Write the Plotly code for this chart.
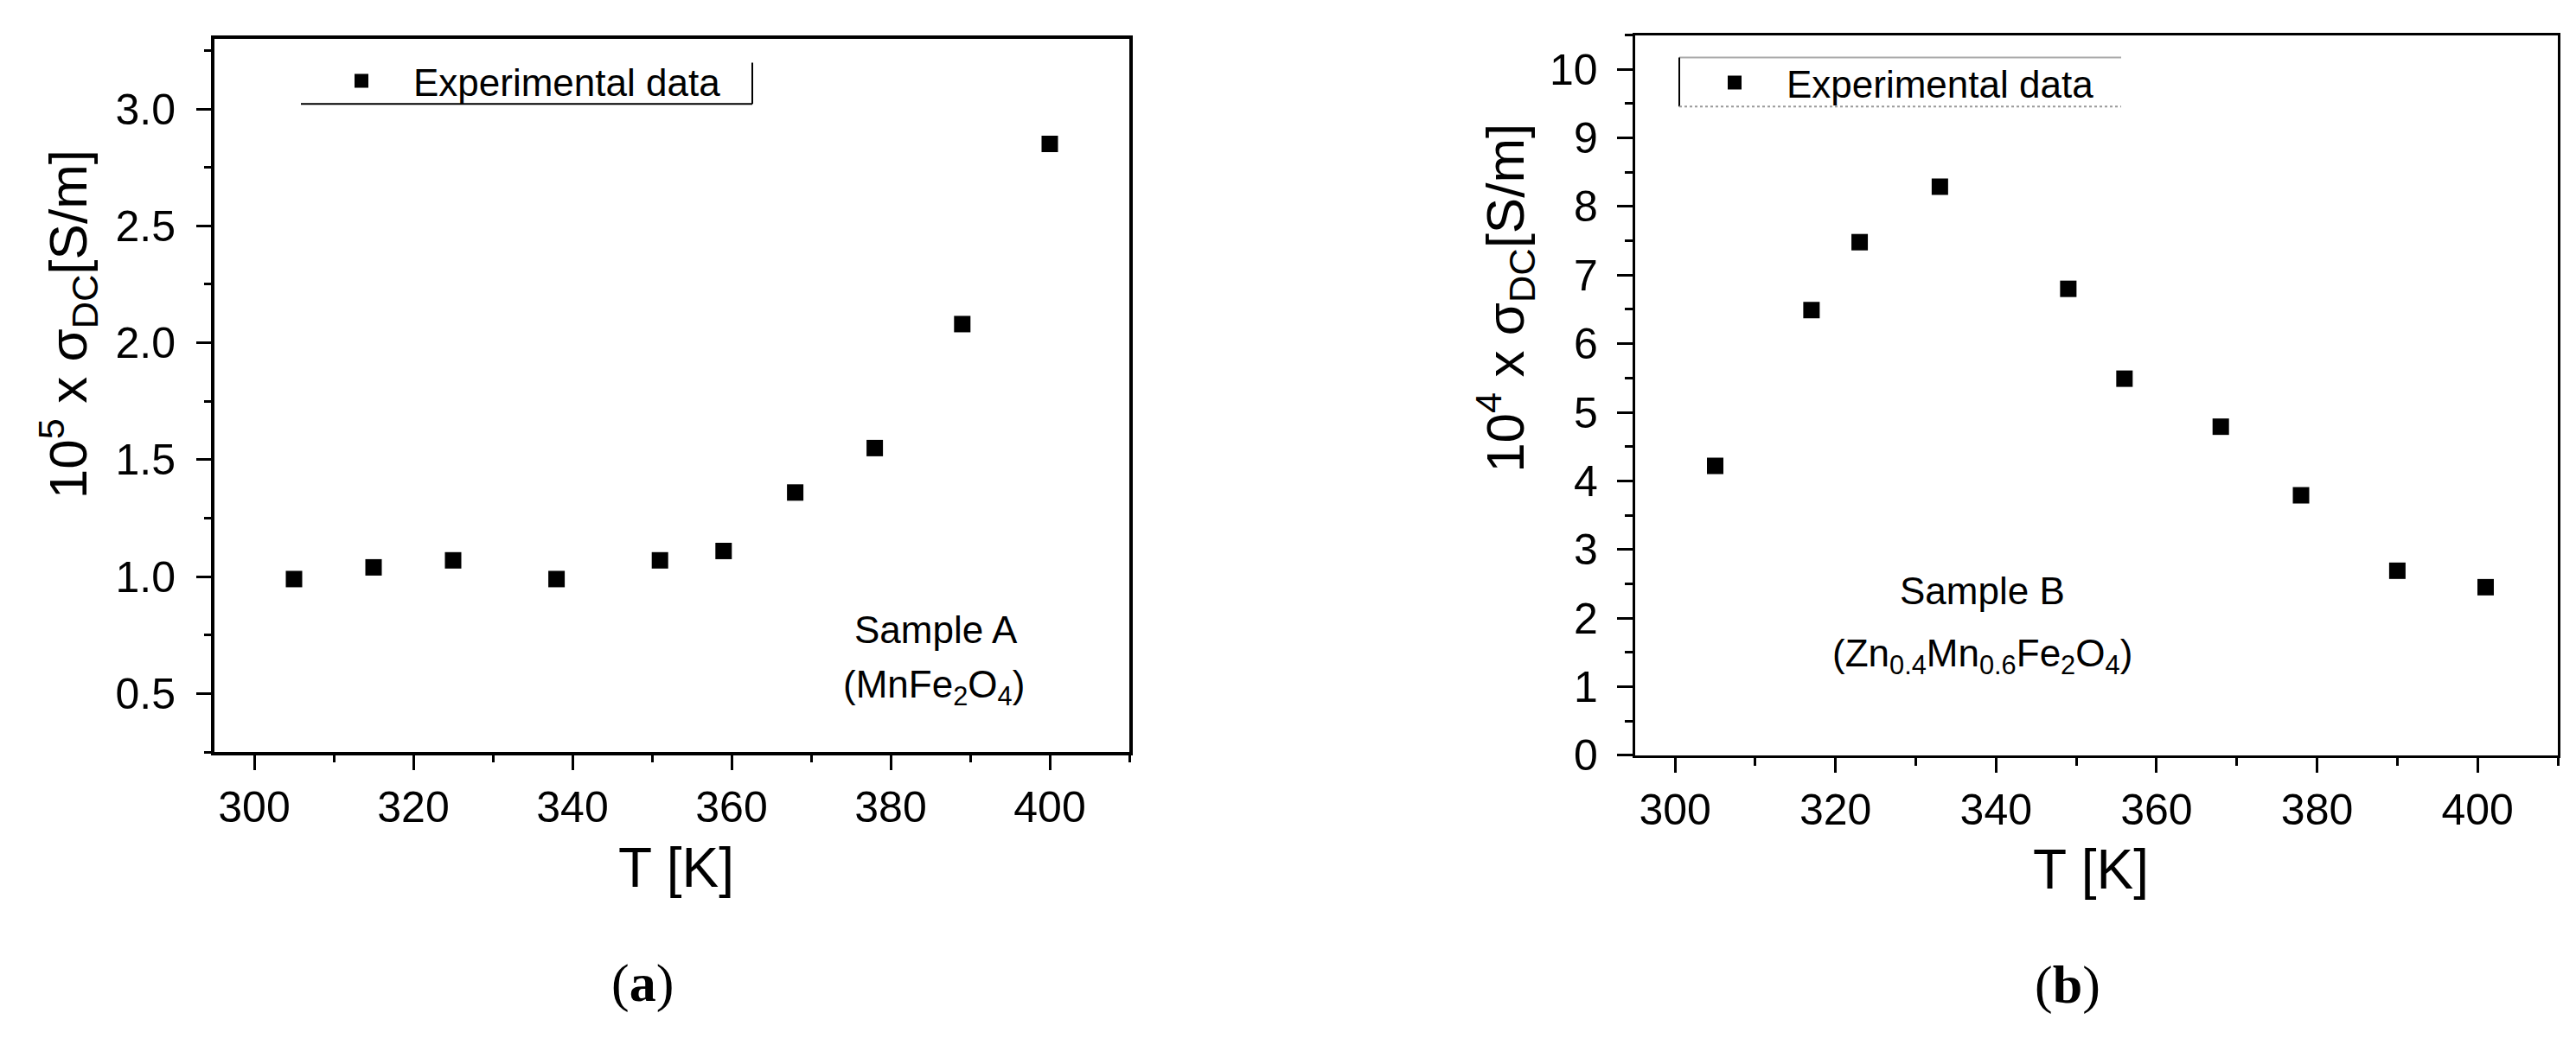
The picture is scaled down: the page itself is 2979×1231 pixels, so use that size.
import plotly.graph_objects as go

W, H = 2979, 1231

# ---- data ----
temp_a = [305, 315, 325, 338, 351, 359, 368, 378, 389, 400]
sigma_a = [0.99, 1.04, 1.07, 0.99, 1.07, 1.11, 1.36, 1.55, 2.08, 2.85]

temp_b = [305, 317, 323, 333, 349, 356, 368, 378, 390, 401]
sigma_b = [4.22, 6.49, 7.48, 8.29, 6.80, 5.49, 4.79, 3.79, 2.69, 2.45]

legend_label = "Experimental data"
x_title = "T [K]"
y_title_a = "10<sup>5</sup> x σ<sub>DC</sub>[S/m]"
y_title_b = "10<sup>4</sup> x σ<sub>DC</sub>[S/m]"
label_a = ["Sample A", "(MnFe<sub>2</sub>O<sub>4</sub>)"]
label_b = ["Sample B", "(Zn<sub>0.4</sub>Mn<sub>0.6</sub>Fe<sub>2</sub>O<sub>4</sub>)"]


def px(x):
    return x / W


def py(y):
    return 1 - y / H


FONT = "Liberation Sans, Arial, sans-serif"
SERIF = "Liberation Serif, Times New Roman, serif"

fig = go.Figure()
fig.add_trace(go.Scatter(x=temp_a, y=sigma_a, mode="markers", name=legend_label,
                         marker=dict(symbol="square", size=19, color="black"),
                         xaxis="x", yaxis="y", legend="legend"))
fig.add_trace(go.Scatter(x=temp_b, y=sigma_b, mode="markers", name=legend_label,
                         marker=dict(symbol="square", size=19, color="black"),
                         xaxis="x2", yaxis="y2", legend="legend2"))

common_x = dict(range=[295, 410], tick0=300, dtick=20, ticks="outside",
                showline=True, linecolor="black", tickcolor="black",
                showgrid=False, zeroline=False, mirror=True,
                tickfont=dict(family=FONT, size=50, color="black"))

fig.update_layout(
    width=W, height=H,
    margin=dict(l=0, r=0, t=0, b=0),
    paper_bgcolor="white", plot_bgcolor="white",
    showlegend=True,
    xaxis=dict(domain=[px(240), px(1298)], anchor="y", linewidth=4, ticklen=17, tickwidth=3,
               minor=dict(dtick=10, tick0=300, ticks="outside", ticklen=8, tickwidth=3,
                          tickcolor="black"),
               **common_x),
    yaxis=dict(domain=[py(883), py(37.7)], anchor="x", range=[0.25, 3.3], tick0=0.5, dtick=0.5,
               tickformat=".1f", ticks="outside", ticklen=17, tickwidth=3, linewidth=4,
               minor=dict(dtick=0.25, tick0=0.5, ticks="outside", ticklen=8, tickwidth=3,
                          tickcolor="black"),
               showline=True, linecolor="black", tickcolor="black", ticklabelstandoff=14,
               showgrid=False, zeroline=False, mirror=True,
               tickfont=dict(family=FONT, size=50, color="black")),
    xaxis2=dict(domain=[px(1882.7), px(2950)], anchor="y2", linewidth=3, ticklen=17, tickwidth=3,
                minor=dict(dtick=10, tick0=300, ticks="outside", ticklen=9, tickwidth=3,
                           tickcolor="black"),
                **common_x),
    yaxis2=dict(domain=[py(886.7), py(33.3)], anchor="x2", range=[0, 10.5], tick0=0, dtick=1,
                ticks="outside", ticklen=18, tickwidth=3, linewidth=3,
                minor=dict(dtick=0.5, tick0=0, ticks="outside", ticklen=9, tickwidth=3,
                           tickcolor="black"),
                showline=True, linecolor="black", tickcolor="black", ticklabelstandoff=12,
                showgrid=False, zeroline=False, mirror=True,
                tickfont=dict(family=FONT, size=50, color="black")),
    legend=dict(x=px(350), y=py(88), xanchor="left", yanchor="middle",
                bgcolor="rgba(0,0,0,0)", borderwidth=0,
                font=dict(family=FONT, size=44, color="black"), itemwidth=110),
    legend2=dict(x=px(1938), y=py(90), xanchor="left", yanchor="middle",
                 bgcolor="rgba(0,0,0,0)", borderwidth=0,
                 font=dict(family=FONT, size=44, color="black"), itemwidth=110),
)


def note(text, x, y, size, family=FONT, angle=0):
    return dict(text=text, x=px(x), y=py(y), xref="paper", yref="paper",
                xanchor="center", yanchor="middle", showarrow=False, textangle=angle,
                font=dict(family=family, size=size, color="black"))


ann = [
    note(x_title, 774, 1020, 64),
    note(x_title, 2410, 1022, 64),
    note(y_title_a, 70, 376, 62, angle=-90),
    note(y_title_b, 1733, 345, 62, angle=-90),
    note(label_a[0], 1074, 738, 44),
    note(label_a[1], 1072, 806, 44),
    note(label_b[0], 2284, 692, 44),
    note(label_b[1], 2284, 769, 44),
    note("(<b>a</b>)", 735, 1157, 62, family=SERIF),
    note("(<b>b</b>)", 2383, 1159, 62, family=SERIF),
]
fig.update_layout(annotations=ann)

# partial legend frames (as drawn in the original)
shapes = [
    dict(type="line", xref="paper", yref="paper", x0=px(340), x1=px(862), y0=py(115), y1=py(115),
         line=dict(color="black", width=2)),
    dict(type="line", xref="paper", yref="paper", x0=px(862), x1=px(862), y0=py(66), y1=py(115),
         line=dict(color="black", width=2)),
    dict(type="line", xref="paper", yref="paper", x0=px(1934), x1=px(2445), y0=py(60), y1=py(60),
         line=dict(color="#aaaaaa", width=2)),
    dict(type="line", xref="paper", yref="paper", x0=px(1934), x1=px(1934), y0=py(60), y1=py(118),
         line=dict(color="black", width=2)),
    dict(type="line", xref="paper", yref="paper", x0=px(1934), x1=px(2445), y0=py(118), y1=py(118),
         line=dict(color="#999999", width=2, dash="dot")),
]
fig.update_layout(shapes=shapes)

fig.write_html("out.html")
